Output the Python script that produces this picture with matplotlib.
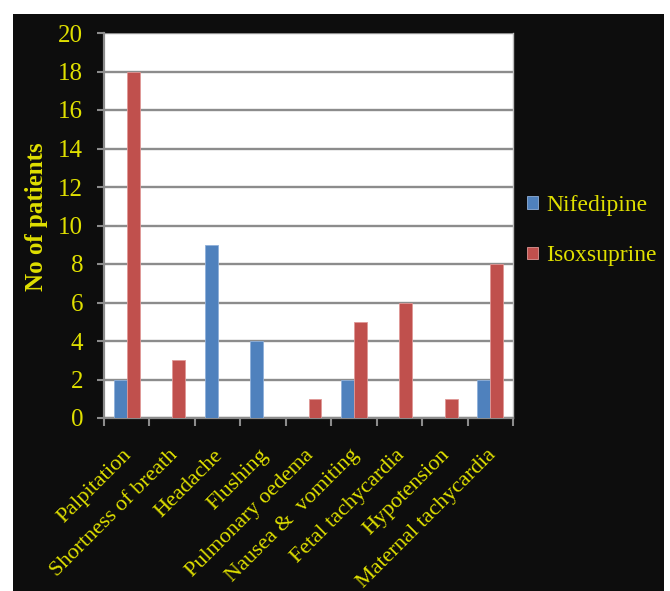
import matplotlib
matplotlib.use("Agg")
import matplotlib.pyplot as plt
import numpy as np

categories = ["Palpitation", "Shortness of breath", "Headache", "Flushing",
              "Pulmonary oedema", "Nausea &  vomiting", "Fetal tachycardia",
              "Hypotension", "Maternal tachycardia"]
nifedipine = [2, 0, 9, 4, 0, 2, 0, 0, 2]
isoxsuprine = [18, 3, 0, 0, 1, 5, 6, 1, 8]
series_names = ["Nifedipine", "Isoxsuprine"]
y_ticks = [0, 2, 4, 6, 8, 10, 12, 14, 16, 18, 20]

W, H = 670, 591
BLUE = "#4F81BD"
RED = "#C0504D"
YEL = "#E0E000"
GRID = "#8C8C8C"
FONT = "Liberation Serif"

fig = plt.figure(figsize=(W / 100, H / 100), dpi=100)
fig.patch.set_facecolor("white")

# dark chart panel behind the plot
bg = fig.add_axes([13 / W, 0, (664 - 13) / W, 1 - 14 / H], zorder=0)
bg.set_facecolor("#0D0D0D")
bg.set_xticks([])
bg.set_yticks([])
for s in bg.spines.values():
    s.set_visible(False)

ax = fig.add_axes([104 / W, 1 - 418 / H, (513 - 104) / W, (418 - 33) / H],
                  zorder=1)
ax.set_facecolor("white")

x = np.arange(len(categories))
bw = 0.285
ax.bar(x - bw / 2, nifedipine, width=bw, color=BLUE, edgecolor="#8FB0DA",
       linewidth=0.6, label=series_names[0], zorder=3)
ax.bar(x + bw / 2, isoxsuprine, width=bw, color=RED, edgecolor="#E09896",
       linewidth=0.6, label=series_names[1], zorder=3)

ax.set_xlim(-0.5, len(categories) - 0.5)
ax.set_ylim(0, 20)
ax.set_yticks(y_ticks)
ax.set_yticklabels([str(v) for v in y_ticks], fontsize=18, color=YEL,
                   family=FONT)
ax.yaxis.grid(True, color=GRID, linewidth=1.7, zorder=1)
ax.set_axisbelow(True)
ax.tick_params(axis="y", length=5, width=1.5, color=GRID, pad=10)

# category boundary ticks on the x axis
ax.set_xticks(np.arange(-0.5, len(categories)), minor=False)
ax.set_xticklabels([])
ax.tick_params(axis="x", length=6, width=1.5, color=GRID)
for i, name in enumerate(categories):
    ax.annotate(name, xy=(i, 0), xycoords=("data", "axes fraction"),
                xytext=(-3, -20), textcoords="offset points",
                rotation=45, ha="right", va="top", rotation_mode="anchor",
                fontsize=16, color=YEL, family=FONT)

ax.spines["top"].set_visible(False)
ax.spines["right"].set_color("#BBBBBB")
ax.spines["right"].set_linewidth(1.0)
ax.spines["left"].set_color(GRID)
ax.spines["left"].set_linewidth(1.6)
ax.spines["bottom"].set_color(GRID)
ax.spines["bottom"].set_linewidth(1.6)

fig.text(37 / W, 1 - 217 / H, "No of patients", rotation=90, ha="center",
         va="center", fontsize=18, color=YEL, family=FONT, fontweight="bold")

leg = ax.legend(loc="center left", bbox_to_anchor=(0.983, 0.487),
                frameon=False, prop={"family": FONT, "size": 17},
                handlelength=0.45, handleheight=0.45, handletextpad=0.35,
                labelspacing=1.26)
for t in leg.get_texts():
    t.set_color(YEL)

fig.savefig("out.png", dpi=100, facecolor=fig.get_facecolor())
